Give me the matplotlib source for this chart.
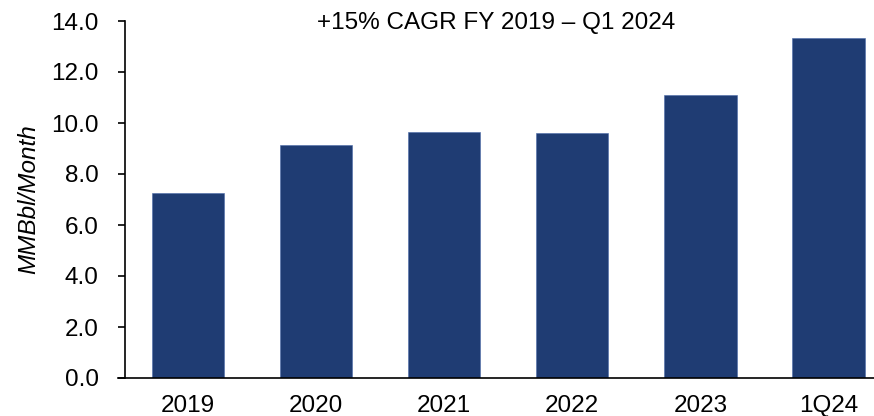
import matplotlib
matplotlib.use("Agg")
import matplotlib.pyplot as plt

categories = ["2019", "2020", "2021", "2022", "2023", "1Q24"]
values = [7.25, 9.15, 9.65, 9.6, 11.1, 13.33]
title = "+15% CAGR FY 2019 \u2013 Q1 2024"
ylabel = "MMBbl/Month"

plt.rcParams['font.family'] = ['Liberation Sans', 'DejaVu Sans']

W, H = 874, 416
FS = 17.5
fig = plt.figure(figsize=(W/100, H/100), dpi=100)
ax = fig.add_axes([125/W, 1 - 378/H, (W - 125)/W, (378 - 21)/H])

x = list(range(len(categories)))
ax.bar(x, values, width=0.565, color="#1f3c73", edgecolor="#4a6aa8", linewidth=0.4)
ax.set_xlim(-0.49, 5.355)
ax.set_ylim(0, 14)
ax.set_yticks([0, 2, 4, 6, 8, 10, 12, 14])
ax.set_yticklabels([f"{v:.1f}" for v in [0, 2, 4, 6, 8, 10, 12, 14]])
ax.set_xticks(x)
ax.set_xticklabels(categories)
ax.tick_params(axis='x', length=0, pad=12, labelsize=FS)
ax.tick_params(axis='y', length=5, width=1.2, direction='out', pad=14, labelsize=FS)
for s in ['top', 'right']:
    ax.spines[s].set_visible(False)
ax.spines['left'].set_linewidth(1.2)
ax.spines['bottom'].set_linewidth(1.2)
ax.spines['bottom'].set_bounds(-0.49 - 7/128, 5.355)
ax.spines['bottom'].set_clip_on(False)
ax.set_ylabel(ylabel, fontsize=FS, style='italic', labelpad=8)
fig.text(496/W, 1 - 23/H, title, ha='center', va='center', fontsize=FS)

fig.savefig("out.png", dpi=100)
